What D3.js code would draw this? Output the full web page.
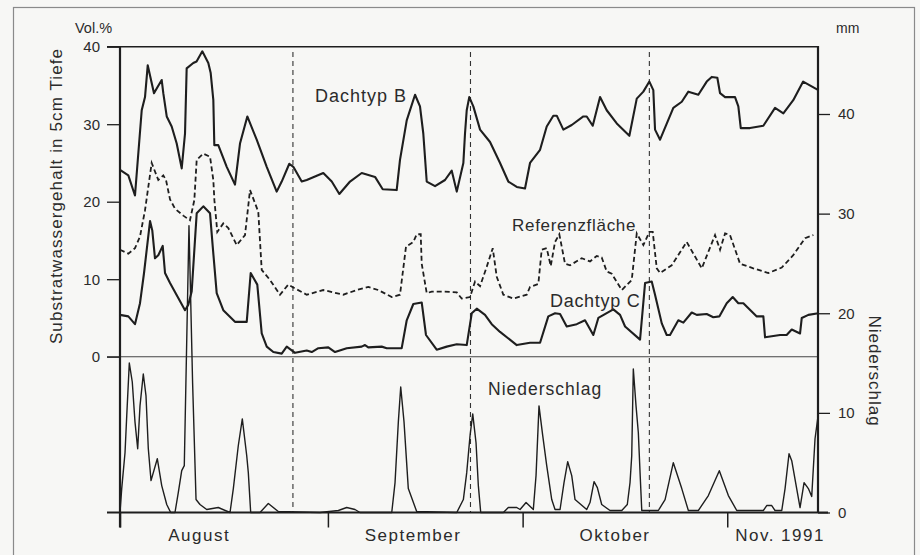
<!DOCTYPE html>
<html><head><meta charset="utf-8">
<script src="https://cdn.jsdelivr.net/npm/d3@7"></script>
<style>
html,body{margin:0;padding:0;background:#f7f7f5;}
svg{display:block;}
text{font-family:"Liberation Sans",Arial,sans-serif;fill:#2b2b2b;}
</style></head><body>
<svg id="c" width="920" height="555"></svg>
<script>
// ---- data (x = day since 1 Aug 1991) ----
const monthTicks = [0, 31.5, 61, 92];
const monthLabels = ["August", "September", "Oktober", "Nov. 1991"];
const monthLabelDays = [12, 44.4, 75, 100];
const markerDays = [26.2, 53.1, 80.2];
const volTicks = [0, 10, 20, 30, 40];
const mmTicks = [0, 10, 20, 30, 40];

const dachtypB = [[0,24.1],[1.26,23.4],[2.27,20.8],[3.29,31.8],[3.79,33.5],[4.2,37.6],[5.15,34.0],[5.56,34.6],[6.32,35.7],[6.56,34.0],[7.08,31.0],[7.83,29.7],[8.59,27.5],[9.35,24.3],[9.85,28.8],[10.1,37.2],[11.1,37.9],[11.6,38.1],[12.47,39.4],[13.38,37.9],[13.74,36.6],[14.14,33.1],[14.29,27.3],[14.89,27.3],[16.17,24.5],[17.42,22.2],[18.18,27.5],[19.29,31.0],[20.71,28.0],[22.23,24.5],[23.74,21.3],[24.5,22.6],[25.65,24.9],[26.26,24.5],[27.53,22.6],[28.29,22.8],[30.8,23.7],[32.08,22.6],[33.23,21.0],[34.85,22.6],[36.62,23.7],[38.64,23.2],[39.8,21.6],[41.92,21.5],[42.42,25.4],[43.44,30.5],[44.7,33.8],[45.45,32.3],[45.95,28.8],[46.47,22.6],[47.73,22.0],[49.24,22.8],[50.26,24.0],[51.02,21.3],[52.02,25.0],[52.27,28.8],[52.53,31.8],[52.92,33.5],[53.53,32.3],[54.55,29.3],[56.06,27.7],[57.58,25.0],[58.83,22.6],[60.11,21.9],[61.36,21.7],[62.12,25.0],[63.64,26.7],[64.65,29.7],[65.65,31.1],[66.17,31.1],[67.17,29.3],[68.44,29.9],[70.2,31.0],[70.71,31.0],[71.62,29.8],[72.73,33.5],[73.74,31.8],[75.26,30.1],[77.17,28.5],[78.29,33.3],[79.29,34.2],[80.2,35.5],[80.8,34.4],[81.06,29.3],[81.82,28.0],[83.83,32.1],[85.11,32.9],[86.11,34.2],[87.62,33.8],[88.89,35.5],[89.65,36.1],[90.5,36.0],[90.91,34.0],[91.67,33.5],[93.18,33.5],[93.68,32.3],[94.05,29.5],[95.45,29.5],[97.47,29.8],[99.24,32.1],[100.5,31.4],[102.0,33.1],[103.5,35.5],[105.8,34.4]];

const referenz = [[0,13.8],[1.26,13.3],[2.27,14.0],[3.03,15.5],[3.79,18.9],[4.8,25.0],[5.8,22.8],[6.56,23.4],[6.97,22.8],[7.58,20.3],[8.33,19.1],[9.59,18.2],[10.6,17.6],[11.26,20.2],[11.62,25.4],[12.62,26.2],[13.64,25.8],[14.14,22.8],[14.3,20.2],[14.74,16.1],[15.65,17.2],[16.41,16.6],[17.68,14.4],[18.94,15.7],[19.7,21.5],[20.95,18.7],[21.47,11.2],[22.73,9.9],[24.24,8.0],[25.5,9.3],[26.52,8.8],[28.29,8.0],[30.8,8.6],[33.83,8.0],[35.86,8.6],[37.62,9.0],[39.14,8.6],[41.17,7.7],[42.42,8.0],[43.33,14.2],[44.44,14.8],[44.95,15.8],[45.56,15.8],[45.71,12.0],[46.47,8.2],[47.23,8.4],[48.98,8.4],[51.02,8.3],[51.77,7.5],[53.03,7.7],[53.79,9.7],[54.55,9.1],[55.56,11.6],[56.47,14.0],[57.08,10.3],[58.08,8.0],[59.59,7.5],[61.62,8.0],[62.12,9.0],[63.38,9.4],[63.89,13.8],[64.65,14.0],[65.26,11.7],[65.91,14.8],[66.56,15.8],[67.42,12.0],[68.18,11.8],[69.95,12.7],[71.21,12.3],[72.23,13.0],[72.98,12.8],[73.74,11.0],[74.5,10.7],[76.02,8.6],[77.53,9.9],[78.29,15.9],[79.29,14.4],[80.2,16.1],[80.71,16.1],[81.32,11.4],[81.82,10.8],[83.59,11.8],[85.86,14.8],[88.14,11.4],[90.15,15.7],[90.91,13.8],[91.67,15.9],[92.42,15.7],[93.94,12.0],[95.95,11.4],[98.23,10.8],[100.26,11.5],[102.0,13.1],[103.79,15.3],[105.05,15.7]];

const dachtypC = [[0,5.4],[1.26,5.2],[2.27,4.2],[3.03,6.9],[3.64,10.8],[4.55,17.5],[4.89,16.3],[5.3,12.7],[5.8,13.1],[6.47,14.3],[6.82,10.8],[7.58,9.5],[9.85,6.0],[10.35,6.7],[10.86,8.4],[11.62,18.5],[12.62,19.4],[13.64,18.5],[14.05,14.2],[14.65,8.2],[15.65,6.0],[17.42,4.5],[19.2,4.5],[19.8,10.8],[20.8,9.3],[21.47,3.0],[22.23,1.3],[23.23,0.6],[24.5,0.4],[25.26,1.3],[26.52,0.5],[28.29,0.8],[29.05,0.6],[30.05,1.1],[31.56,1.2],[32.58,0.6],[34.35,1.1],[36.62,1.3],[37.12,1.5],[37.62,1.2],[39.65,1.3],[40.41,1.1],[42.68,1.1],[43.44,4.7],[44.44,6.8],[45.71,7.0],[46.36,2.8],[47.98,0.9],[49.5,1.3],[51.02,1.6],[52.53,1.5],[53.29,5.6],[54.05,6.2],[55.3,5.4],[56.32,4.2],[57.58,3.2],[60.11,1.5],[62.12,1.8],[63.64,1.8],[64.89,5.2],[65.91,5.6],[66.67,5.5],[67.68,3.9],[69.2,4.2],[70.45,4.7],[71.71,2.8],[72.47,5.0],[74.74,6.1],[75.76,5.4],[76.52,3.9],[78.79,2.2],[79.55,9.5],[80.56,9.7],[81.06,8.0],[82.08,4.3],[82.83,2.8],[83.33,2.8],[84.59,4.7],[85.35,4.4],[86.62,5.7],[87.38,5.4],[88.89,5.5],[89.89,5.1],[90.8,5.2],[91.92,6.9],[92.83,7.7],[93.68,6.9],[94.44,6.9],[96.47,5.2],[97.47,5.2],[97.73,2.5],[100.0,2.8],[101.0,2.8],[101.77,3.5],[103.03,3.0],[103.29,5.0],[104.29,5.4],[105.8,5.6]];

const niederschlag = [[0,0],[0.26,2.4],[0.76,6.0],[1.02,9.7],[1.41,15.0],[1.86,13.1],[2.27,9.1],[2.68,6.4],[3.03,10.7],[3.53,13.9],[3.94,11.7],[4.29,6.4],[4.7,3.2],[5.65,5.4],[6.32,2.7],[7.08,0.8],[7.68,0],[8.33,0],[8.83,2.0],[9.35,4.2],[9.74,4.7],[10.45,28.8],[11.0,13.0],[11.52,1.3],[12.12,0.8],[13.14,0.3],[14.89,0.5],[16.67,0],[17.17,2.4],[17.92,6.7],[18.53,9.4],[19.2,5.7],[19.44,4.0],[19.8,0],[21.21,0],[22.47,0.9],[23.98,0.1],[30.3,0],[33.08,0.2],[34.35,0.5],[35.6,0.3],[36.36,0],[41.17,0],[41.67,3.0],[42.17,9.1],[42.53,12.6],[43.03,9.1],[43.68,2.4],[44.95,0.1],[51.02,0],[52.02,1.3],[52.53,4.0],[53.03,7.7],[53.44,9.9],[53.94,7.0],[54.29,2.7],[54.65,0],[58.08,0],[58.83,0.5],[60.11,0.5],[60.61,0.3],[61.52,1.0],[62.62,0.3],[63.03,3.7],[63.48,10.7],[64.05,7.7],[64.65,4.7],[65.41,1.3],[65.91,0.3],[66.67,0.3],[67.27,3.0],[67.83,5.1],[68.44,3.7],[68.94,1.3],[70.71,0.3],[71.21,1.0],[71.82,3.1],[72.32,2.5],[72.98,0.8],[74.24,0.2],[76.02,0.2],[76.86,0.8],[77.27,3.0],[77.53,5.7],[77.77,14.4],[78.18,10.7],[78.53,8.0],[78.79,4.0],[79.05,0.2],[81.56,0.2],[82.58,1.3],[83.83,5.0],[85.11,2.4],[86.11,0.2],[87.62,0.2],[89.14,1.7],[90.8,4.2],[92.17,1.7],[93.44,0.2],[97.47,0.2],[97.98,0.7],[98.74,0.7],[99.24,0.2],[100.26,0.2],[100.76,2.4],[101.36,5.9],[101.77,5.2],[103.03,0.5],[103.64,3.0],[104.29,2.4],[104.8,1.6],[105.3,7.4],[105.8,9.9]];

// ---- drawing ----
const svg = d3.select("#c");
const ink = "#1e1e1e";

const x = d3.scaleLinear().domain([0, 105.75]).range([120, 818]);
const yVol = d3.scaleLinear().domain([0, 40]).range([356.7, 46.7]);
const yMm = d3.scaleLinear().domain([0, 40]).range([512.5, 114]);

// outer frame
svg.append("rect").attr("x", 13.5).attr("y", 7.5).attr("width", 901).attr("height", 560)
  .attr("fill", "none").attr("stroke", "#8a8a8a").attr("stroke-width", 1.2);

// top border & zero line
svg.append("line").attr("x1", 107).attr("x2", x.range()[1]).attr("y1", yVol(40)).attr("y2", yVol(40))
  .attr("stroke", ink).attr("stroke-width", 1.6);
svg.append("line").attr("x1", 107).attr("x2", x.range()[1]).attr("y1", yVol(0)).attr("y2", yVol(0))
  .attr("stroke", "#444").attr("stroke-width", 1.1);

// dashed markers
svg.append("g").selectAll("line").data(markerDays).join("line")
  .attr("x1", d => x(d)).attr("x2", d => x(d))
  .attr("y1", 52).attr("y2", yMm(0))
  .attr("stroke", "#333").attr("stroke-width", 1.1).attr("stroke-dasharray", "5,4");

// left axis
const gL = svg.append("g").attr("transform", `translate(${x(0)},0)`)
  .call(d3.axisLeft(yVol).tickValues(volTicks).tickSize(13).tickPadding(7));
gL.select(".domain").remove();
gL.selectAll(".tick line").attr("stroke", ink).attr("stroke-width", 1.3);
gL.selectAll(".tick text").attr("font-size", 15).attr("fill", "#2b2b2b")
  .style("font-family", "'Liberation Sans',Arial,sans-serif");

// right axis
const gR = svg.append("g").attr("transform", `translate(${x.range()[1]},0)`)
  .call(d3.axisRight(yMm).tickValues(mmTicks).tickSize(12).tickPadding(8));
gR.select(".domain").remove();
gR.selectAll(".tick line").attr("stroke", ink).attr("stroke-width", 1.3);
gR.selectAll(".tick text").attr("font-size", 15).attr("fill", "#2b2b2b")
  .style("font-family", "'Liberation Sans',Arial,sans-serif");

// bottom axis
const gB = svg.append("g").attr("transform", `translate(0,${yMm(0)})`)
  .call(d3.axisBottom(x).tickValues(monthTicks).tickSize(15).tickFormat(""));
gB.select(".domain").remove();
gB.selectAll(".tick line").attr("stroke", ink).attr("stroke-width", 1.5);

// axis lines
svg.append("line").attr("x1", x(0)).attr("x2", x(0)).attr("y1", yVol(40) - 0.8).attr("y2", yMm(0) + 15)
  .attr("stroke", ink).attr("stroke-width", 2.2);
svg.append("line").attr("x1", x.range()[1]).attr("x2", x.range()[1]).attr("y1", yVol(40) - 0.8).attr("y2", yMm(0))
  .attr("stroke", ink).attr("stroke-width", 2.2);
svg.append("line").attr("x1", 107).attr("x2", 828).attr("y1", yMm(0)).attr("y2", yMm(0))
  .attr("stroke", ink).attr("stroke-width", 2);

// month labels
svg.append("g").selectAll("text").data(monthLabels).join("text")
  .attr("x", (d, i) => x(monthLabelDays[i])).attr("y", 541)
  .attr("text-anchor", "middle").attr("font-size", 17).attr("letter-spacing", 1.5)
  .text(d => d);

// series
const lineVol = d3.line().x(d => x(d[0])).y(d => yVol(d[1]));
const lineMm = d3.line().x(d => x(d[0])).y(d => yMm(d[1]));

svg.append("path").datum(niederschlag).attr("d", lineMm)
  .attr("fill", "none").attr("stroke", ink).attr("stroke-width", 1.4).attr("stroke-linejoin", "round");
svg.append("path").datum(referenz).attr("d", lineVol)
  .attr("fill", "none").attr("stroke", ink).attr("stroke-width", 1.8).attr("stroke-dasharray", "5,3");
svg.append("path").datum(dachtypC).attr("d", lineVol)
  .attr("fill", "none").attr("stroke", ink).attr("stroke-width", 2.1).attr("stroke-linejoin", "round");
svg.append("path").datum(dachtypB).attr("d", lineVol)
  .attr("fill", "none").attr("stroke", ink).attr("stroke-width", 2.1).attr("stroke-linejoin", "round");

// series labels
const lbl = (t, px, py, fs, ls) => svg.append("text").attr("x", px).attr("y", py)
  .attr("font-size", fs).attr("letter-spacing", ls).text(t);
lbl("Dachtyp B", 315, 102, 18, 1);
lbl("Referenzfläche", 512, 231, 17, 0.7);
lbl("Dachtyp C", 550, 307, 18, 0.7);
lbl("Niederschlag", 488, 395, 17.5, 1);

// units & titles
svg.append("text").attr("x", 75).attr("y", 33).attr("font-size", 14.5).text("Vol.%");
svg.append("text").attr("x", 836).attr("y", 33).attr("font-size", 14).text("mm");
svg.append("text").attr("transform", "translate(62,196) rotate(-90)")
  .attr("text-anchor", "middle").attr("font-size", 17).attr("letter-spacing", 1.1)
  .text("Substratwassergehalt in 5cm Tiefe");
svg.append("text").attr("transform", "translate(869,371) rotate(90)")
  .attr("text-anchor", "middle").attr("font-size", 17).attr("letter-spacing", 1)
  .text("Niederschlag");
</script>
</body></html>
